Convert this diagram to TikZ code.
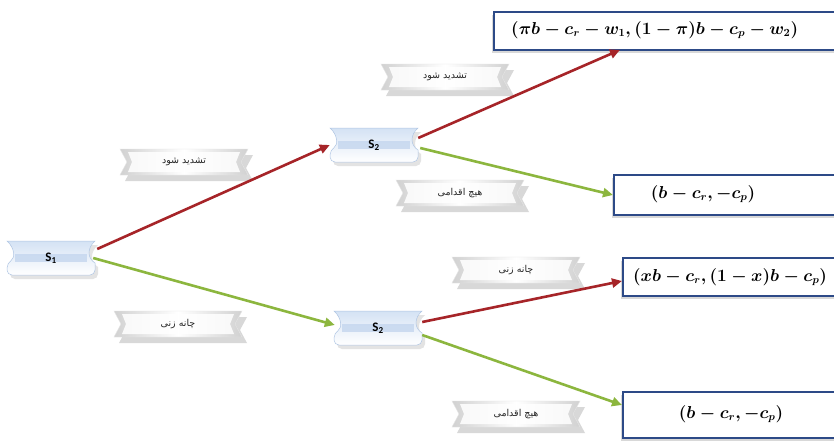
\documentclass[tikz,border=0pt]{standalone}
\usepackage{fontspec}
\TeXXeTstate=1
\newfontfamily\arabicfont[Script=Arabic]{DejaVu Sans}
\newfontfamily\calfont{Carlito}
\usetikzlibrary{arrows.meta,shadows,backgrounds,calc}

\definecolor{movered}{RGB}{166,36,40}
\definecolor{movegreen}{RGB}{140,182,62}
\definecolor{boxblue}{RGB}{45,74,135}
\definecolor{bonetop}{RGB}{212,226,244}
\definecolor{boneband}{RGB}{196,214,238}
\definecolor{boneedge}{RGB}{176,198,228}

\tikzset{
  x=1pt, y=-1pt,
  player/.style={minimum width=88pt, minimum height=34pt, inner sep=0pt,
    font=\calfont\bfseries\fontsize{13}{13}\selectfont},
  tag/.style={minimum width=128pt, minimum height=26pt, inner sep=0pt,
    font=\arabicfont\fontsize{9.5}{10}\selectfont, text=black!85},
  payoff/.style={draw=boxblue, line width=1.8pt, fill=white,
    anchor=west, inner sep=0pt,
    drop shadow={shadow xshift=-2pt, shadow yshift=-3pt, opacity=.3}},
  payofftext/.style={inner sep=0pt, font=\fontsize{16}{18}\selectfont\boldmath},
  move/.style={line width=2.6pt, -{Triangle[length=10pt,width=9pt]}},
  red move/.style={move, draw=movered, fill=movered},
  green move/.style={move, draw=movegreen, fill=movegreen},
  % bone-like banner behind a player node
  bone/.pic={
    \path[top color=bonetop, bottom color=white, draw=boneedge, line width=.5pt,
      drop shadow={shadow xshift=3pt, shadow yshift=-4pt, opacity=.22}]
      (-44,-17) -- (44,-17) .. controls (36,-10) and (36,0) .. (44,5)
      [rounded corners=5pt] -- (44,17) -- (-44,17) -- (-44,5) [sharp corners]
      .. controls (-36,0) and (-36,-10) .. (-44,-17) -- cycle;
    \fill[boneband, opacity=.8] (-36,-4) rectangle (36,4);
  },
  % bevelled ribbon behind a move label
  ribbon/.pic={
    \path[left color=black!18, right color=black!18, middle color=white,
      draw=black!10, line width=.4pt,
      drop shadow={shadow xshift=5pt, shadow yshift=-6pt, opacity=.3}]
      (-64,-13) -- (64,-13) -- (57,0) -- (64,13) -- (-64,13) -- (-57,0) -- cycle;
    \fill[white, opacity=.85] (-56,-10) -- (56,-10) -- (52,0) -- (56,10) -- (-56,10) -- (-52,0) -- cycle;
  }
}

\begin{document}
\begin{tikzpicture}
\clip (0,0) rectangle (834,444);

% players
\node[player] (s1)  at (51,258)  {S\textsubscript{1}};
\node[player] (s2a) at (374,145) {S\textsubscript{2}};
\node[player] (s2b) at (378,328) {S\textsubscript{2}};

% move labels
\node[tag] (l1) at (184,162) {\beginR تشدید شود\endR};
\node[tag] (l2) at (445,77)  {\beginR تشدید شود\endR};
\node[tag] (l3) at (460,193) {\beginR هیچ اقدامی\endR};
\node[tag] (l4) at (516,270) {\beginR چانه زنی\endR};
\node[tag] (l5) at (178,324) {\beginR چانه زنی\endR};
\node[tag] (l6) at (516,414) {\beginR هیچ اقدامی\endR};

% payoff boxes
\node[payoff, minimum width=350pt, minimum height=38pt] (p1) at (493,31)  {};
\node[payoff, minimum width=230pt, minimum height=40pt] (p2) at (613,195) {};
\node[payoff, minimum width=220pt, minimum height=38pt] (p3) at (622,277) {};
\node[payoff, minimum width=220pt, minimum height=46pt] (p4) at (622,415) {};

\node[payofftext, anchor=west] (t1) at (511,30)
  {$(\pi b-c_r-w_1,(1-\pi)b-c_p-w_2)$};
\node[payofftext] (t2) at (703,194) {$(b-c_r,-c_p)$};
\node[payofftext] (t3) at (730,277) {$(xb-c_r,(1-x)b-c_p)$};
\node[payofftext] (t4) at (731,414) {$(b-c_r,-c_p)$};

% banners under the players and labels
\begin{pgfonlayer}{background}
  \fill[white] (0,0) rectangle (834,444);
  \foreach \n in {s1,s2a,s2b} { \pic at (\n.center) {bone}; }
  \foreach \n in {l1,l2,l3,l4,l5,l6} { \pic at (\n.center) {ribbon}; }
\end{pgfonlayer}

% moves
\draw[red move]   ($(s1.east)+(2,-9)$)  -- (s2a.west);
\draw[green move] ($(s1.east)+(-2,0)$)  -- ($(s2b.west)+(1,-3)$);
\draw[red move]   ($(s2a.east)+(0,-7)$) -- ($(p1.south west)+(127,-1)$);
\draw[green move] ($(s2a.east)+(2,3)$)  -- (p2.west);
\draw[red move]   ($(s2b.east)+(0,-6)$) -- ($(p3.west)+(0,4)$);
\draw[green move] ($(s2b.east)+(0,7)$)  -- ($(p4.west)+(0,-10)$);
\end{tikzpicture}
\end{document}
